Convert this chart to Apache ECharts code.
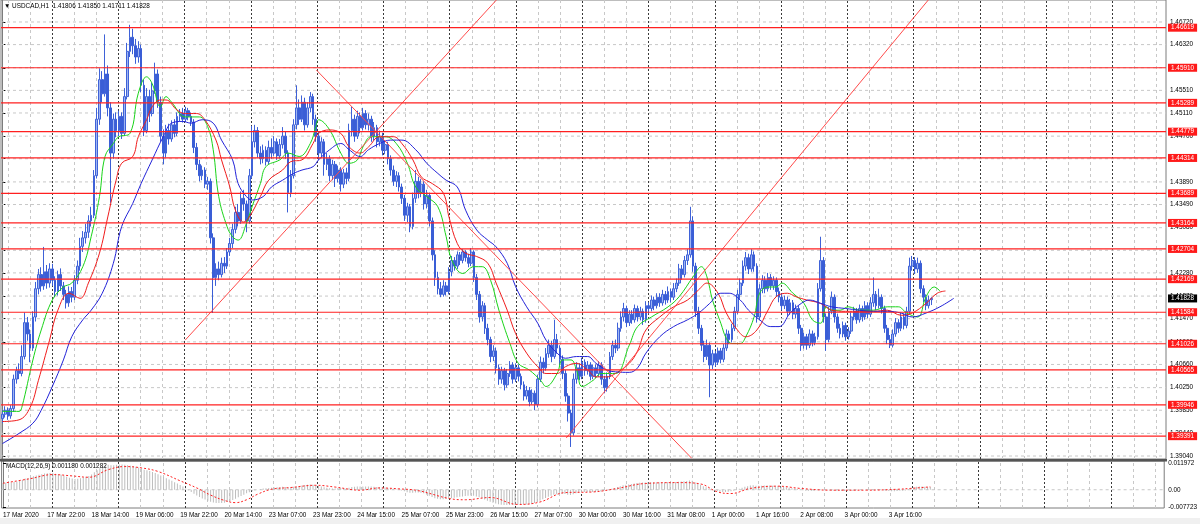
<!DOCTYPE html>
<html><head><meta charset="utf-8">
<script src="https://cdn.jsdelivr.net/npm/echarts/dist/echarts.min.js"></script>
<style>html,body{margin:0;padding:0;background:#fff}#c{width:1200px;height:524px}</style>
</head><body><div id="c"></div><script>
// ---------- DATA ----------
const tickLabels = ['17 Mar 2020','17 Mar 22:00','18 Mar 14:00','19 Mar 06:00','19 Mar 22:00','20 Mar 14:00','23 Mar 07:00','23 Mar 23:00','24 Mar 15:00','25 Mar 07:00','25 Mar 23:00','26 Mar 15:00','27 Mar 07:00','30 Mar 00:00','30 Mar 16:00','31 Mar 08:00','1 Apr 00:00','1 Apr 16:00','2 Apr 08:00','3 Apr 00:00','3 Apr 16:00'];
const levels = [1.46619,1.45910,1.45289,1.44779,1.44314,1.43689,1.43164,1.42704,1.42169,1.41584,1.41026,1.40565,1.39946,1.39391];
const currentPrice = 1.41828;
const priceTicks = [1.46720,1.46320,1.45910,1.45510,1.45110,1.44700,1.44300,1.43890,1.43490,1.43080,1.42680,1.42280,1.41870,1.41470,1.41060,1.40660,1.40250,1.39850,1.39440,1.39040];
const headerText = 'USDCAD,H1  1.41806 1.41850 1.41711 1.41828';
const macdText = 'MACD(12,26,9) 0.001180 0.001282';
const macdTicks = [0.011972, 0, -0.007723];
// [open, close, low, high]
const candles = [
[1.3970,1.3978,1.3962,1.3986],[1.3978,1.3985,1.3972,1.3992],[1.3985,1.3975,1.3968,1.3990],[1.3975,1.3988,1.3970,1.3994],[1.3988,1.4040,1.3982,1.4048],
[1.4040,1.4055,1.4032,1.4062],[1.4055,1.4050,1.4040,1.4068],[1.4050,1.4080,1.4045,1.4100],[1.4080,1.4140,1.4075,1.4158],[1.4140,1.4120,1.4108,1.4150],
[1.4120,1.4095,1.4070,1.4128],[1.4095,1.4150,1.4090,1.4160],[1.4150,1.4200,1.4142,1.4212],[1.4200,1.4225,1.4190,1.4235],[1.4225,1.4205,1.4195,1.4238],
[1.4205,1.4230,1.4198,1.4274],[1.4230,1.4210,1.4200,1.4242],[1.4210,1.4235,1.4202,1.4245],[1.4235,1.4215,1.4205,1.4244],[1.4215,1.4195,1.4185,1.4222],
[1.4195,1.4225,1.4188,1.4232],[1.4225,1.4205,1.4196,1.4236],[1.4205,1.4190,1.4180,1.4212],[1.4190,1.4175,1.4165,1.4198],[1.4175,1.4195,1.4168,1.4204],
[1.4195,1.4185,1.4176,1.4203],[1.4185,1.4215,1.4180,1.4224],[1.4215,1.4240,1.4208,1.4250],[1.4240,1.4275,1.4232,1.4290],[1.4275,1.4290,1.4265,1.4302],
[1.4290,1.4300,1.4280,1.4315],[1.4300,1.4320,1.4290,1.4330],[1.4320,1.4330,1.4310,1.4345],[1.4330,1.4400,1.4325,1.4410],[1.4400,1.4500,1.4395,1.4520],
[1.4500,1.4570,1.4490,1.4590],[1.4570,1.4545,1.4530,1.4585],[1.4545,1.4580,1.4540,1.4650],[1.4580,1.4520,1.4505,1.4595],[1.4520,1.4440,1.4352,1.4530],
[1.4440,1.4500,1.4430,1.4510],[1.4500,1.4480,1.4468,1.4512],[1.4480,1.4505,1.4470,1.4515],[1.4505,1.4475,1.4465,1.4512],[1.4475,1.4540,1.4470,1.4555],
[1.4540,1.4620,1.4535,1.4635],[1.4620,1.4645,1.4610,1.4667],[1.4645,1.4630,1.4615,1.4660],[1.4630,1.4610,1.4598,1.4642],[1.4610,1.4625,1.4600,1.4638],
[1.4625,1.4560,1.4548,1.4632],[1.4560,1.4480,1.4470,1.4570],[1.4480,1.4540,1.4475,1.4555],[1.4540,1.4510,1.4495,1.4552],[1.4510,1.4550,1.4505,1.4565],
[1.4550,1.4580,1.4545,1.4600],[1.4580,1.4530,1.4520,1.4588],[1.4530,1.4470,1.4460,1.4540],[1.4470,1.4440,1.4420,1.4482],[1.4440,1.4480,1.4432,1.4490],
[1.4480,1.4465,1.4455,1.4492],[1.4465,1.4490,1.4460,1.4498],[1.4490,1.4475,1.4468,1.4500],[1.4475,1.4505,1.4470,1.4512],[1.4505,1.4510,1.4496,1.4518],
[1.4510,1.4500,1.4494,1.4520],[1.4500,1.4515,1.4495,1.4522],[1.4515,1.4505,1.4498,1.4520],[1.4505,1.4495,1.4488,1.4512],[1.4495,1.4450,1.4440,1.4500],
[1.4450,1.4420,1.4410,1.4458],[1.4420,1.4400,1.4390,1.4428],[1.4400,1.4410,1.4392,1.4418],[1.4410,1.4385,1.4378,1.4415],[1.4385,1.4390,1.4375,1.4398],
[1.4390,1.4290,1.4280,1.4395],[1.4290,1.4220,1.4157,1.4298],[1.4220,1.4235,1.4205,1.4245],[1.4235,1.4225,1.4215,1.4248],[1.4225,1.4245,1.4220,1.4255],
[1.4245,1.4240,1.4228,1.4256],[1.4240,1.4265,1.4235,1.4272],[1.4265,1.4280,1.4258,1.4290],[1.4280,1.4305,1.4272,1.4315],[1.4305,1.4335,1.4298,1.4345],
[1.4335,1.4320,1.4310,1.4350],[1.4320,1.4360,1.4315,1.4372],[1.4360,1.4350,1.4338,1.4375],[1.4350,1.4320,1.4300,1.4356],[1.4320,1.4400,1.4315,1.4412],
[1.4400,1.4460,1.4395,1.4488],[1.4460,1.4480,1.4450,1.4490],[1.4480,1.4440,1.4432,1.4486],[1.4440,1.4430,1.4420,1.4452],[1.4430,1.4445,1.4422,1.4455],
[1.4445,1.4425,1.4418,1.4452],[1.4425,1.4450,1.4420,1.4462],[1.4450,1.4440,1.4430,1.4466],[1.4440,1.4460,1.4435,1.4470],[1.4460,1.4435,1.4428,1.4466],
[1.4435,1.4455,1.4430,1.4465],[1.4455,1.4470,1.4448,1.4486],[1.4470,1.4440,1.4430,1.4478],[1.4440,1.4370,1.4335,1.4445],[1.4370,1.4400,1.4362,1.4410],
[1.4400,1.4490,1.4395,1.4500],[1.4490,1.4520,1.4482,1.4560],[1.4520,1.4500,1.4490,1.4535],[1.4500,1.4530,1.4495,1.4542],[1.4530,1.4490,1.4480,1.4538],
[1.4490,1.4520,1.4485,1.4530],[1.4520,1.4540,1.4512,1.4548],[1.4540,1.4500,1.4490,1.4545],[1.4500,1.4470,1.4460,1.4508],[1.4470,1.4440,1.4428,1.4478],
[1.4440,1.4460,1.4432,1.4468],[1.4460,1.4420,1.4400,1.4465],[1.4420,1.4430,1.4410,1.4440],[1.4430,1.4400,1.4390,1.4436],[1.4400,1.4420,1.4392,1.4428],
[1.4420,1.4395,1.4380,1.4426],[1.4395,1.4410,1.4388,1.4418],[1.4410,1.4385,1.4372,1.4415],[1.4385,1.4405,1.4378,1.4412],[1.4405,1.4395,1.4385,1.4414],
[1.4395,1.4480,1.4390,1.4492],[1.4480,1.4500,1.4470,1.4522],[1.4500,1.4470,1.4460,1.4508],[1.4470,1.4505,1.4465,1.4515],[1.4505,1.4485,1.4475,1.4512],
[1.4485,1.4510,1.4480,1.4520],[1.4510,1.4490,1.4482,1.4516],[1.4490,1.4500,1.4480,1.4510],[1.4500,1.4470,1.4460,1.4506],[1.4470,1.4485,1.4462,1.4495],
[1.4485,1.4460,1.4450,1.4490],[1.4460,1.4470,1.4452,1.4480],[1.4470,1.4445,1.4436,1.4476],[1.4445,1.4455,1.4438,1.4462],[1.4455,1.4430,1.4420,1.4460],
[1.4430,1.4410,1.4400,1.4436],[1.4410,1.4390,1.4382,1.4418],[1.4390,1.4400,1.4380,1.4408],[1.4400,1.4380,1.4372,1.4406],[1.4380,1.4360,1.4350,1.4386],
[1.4360,1.4330,1.4320,1.4366],[1.4330,1.4345,1.4318,1.4352],[1.4345,1.4310,1.4300,1.4350],[1.4310,1.4360,1.4305,1.4370],[1.4360,1.4390,1.4352,1.4410],
[1.4390,1.4370,1.4360,1.4398],[1.4370,1.4385,1.4362,1.4394],[1.4385,1.4350,1.4340,1.4390],[1.4350,1.4365,1.4342,1.4375],[1.4365,1.4320,1.4310,1.4370],
[1.4320,1.4260,1.4250,1.4326],[1.4260,1.4220,1.4205,1.4268],[1.4220,1.4200,1.4190,1.4230],[1.4200,1.4190,1.4185,1.4212],[1.4190,1.4205,1.4186,1.4215],
[1.4205,1.4195,1.4188,1.4212],[1.4195,1.4230,1.4190,1.4238],[1.4230,1.4250,1.4222,1.4258],[1.4250,1.4240,1.4232,1.4256],[1.4240,1.4260,1.4235,1.4266],
[1.4260,1.4250,1.4242,1.4265],[1.4250,1.4265,1.4245,1.4270],[1.4265,1.4255,1.4248,1.4268],[1.4255,1.4245,1.4238,1.4262],[1.4245,1.4265,1.4240,1.4272],
[1.4265,1.4220,1.4212,1.4268],[1.4220,1.4190,1.4180,1.4226],[1.4190,1.4150,1.4140,1.4196],[1.4150,1.4170,1.4142,1.4178],[1.4170,1.4130,1.4120,1.4175],
[1.4130,1.4110,1.4100,1.4138],[1.4110,1.4080,1.4070,1.4115],[1.4080,1.4090,1.4072,1.4100],[1.4090,1.4060,1.4050,1.4096],[1.4060,1.4040,1.4030,1.4066],
[1.4040,1.4055,1.4032,1.4062],[1.4055,1.4030,1.4020,1.4060],[1.4030,1.4050,1.4025,1.4058],[1.4050,1.4065,1.4044,1.4072],[1.4065,1.4040,1.4032,1.4070],
[1.4040,1.4060,1.4035,1.4068],[1.4060,1.4045,1.4036,1.4066],[1.4045,1.4030,1.4022,1.4050],[1.4030,1.4010,1.4002,1.4036],[1.4010,1.4020,1.4004,1.4028],
[1.4020,1.4000,1.3992,1.4026],[1.4000,1.4015,1.3995,1.4022],[1.4015,1.3995,1.3985,1.4020],[1.3995,1.4040,1.3990,1.4048],[1.4040,1.4070,1.4035,1.4080],
[1.4070,1.4060,1.4050,1.4078],[1.4060,1.4085,1.4055,1.4095],[1.4085,1.4100,1.4078,1.4110],[1.4100,1.4080,1.4070,1.4108],[1.4080,1.4110,1.4076,1.4145],
[1.4110,1.4095,1.4085,1.4120],[1.4095,1.4075,1.4065,1.4100],[1.4075,1.4050,1.4040,1.4082],[1.4050,1.4010,1.4000,1.4056],[1.4010,1.3980,1.3965,1.4015],
[1.3980,1.3945,1.3920,1.3986],[1.3945,1.4040,1.3940,1.4050],[1.4040,1.4060,1.4032,1.4070],[1.4060,1.4045,1.4038,1.4068],[1.4045,1.4070,1.4040,1.4078],
[1.4070,1.4055,1.4046,1.4075],[1.4055,1.4065,1.4048,1.4072],[1.4065,1.4045,1.4038,1.4070],[1.4045,1.4060,1.4040,1.4066],[1.4060,1.4050,1.4042,1.4066],
[1.4050,1.4065,1.4044,1.4072],[1.4065,1.4040,1.4030,1.4070],[1.4040,1.4025,1.4015,1.4046],[1.4025,1.4045,1.4018,1.4052],[1.4045,1.4080,1.4040,1.4088],
[1.4080,1.4100,1.4074,1.4108],[1.4100,1.4095,1.4086,1.4110],[1.4095,1.4130,1.4090,1.4140],[1.4130,1.4150,1.4124,1.4160],[1.4150,1.4165,1.4142,1.4175],
[1.4165,1.4140,1.4132,1.4170],[1.4140,1.4155,1.4134,1.4162],[1.4155,1.4145,1.4138,1.4162],[1.4145,1.4165,1.4140,1.4172],[1.4165,1.4150,1.4142,1.4170],
[1.4150,1.4160,1.4144,1.4168],[1.4160,1.4145,1.4136,1.4165],[1.4145,1.4170,1.4140,1.4178],[1.4170,1.4165,1.4156,1.4176],[1.4165,1.4180,1.4160,1.4188],
[1.4180,1.4170,1.4162,1.4186],[1.4170,1.4185,1.4165,1.4192],[1.4185,1.4175,1.4168,1.4192],[1.4175,1.4190,1.4170,1.4198],[1.4190,1.4180,1.4172,1.4196],
[1.4180,1.4195,1.4175,1.4204],[1.4195,1.4185,1.4176,1.4200],[1.4185,1.4200,1.4180,1.4210],[1.4200,1.4210,1.4194,1.4218],[1.4210,1.4235,1.4205,1.4244],
[1.4235,1.4225,1.4216,1.4242],[1.4225,1.4250,1.4220,1.4258],[1.4250,1.4260,1.4242,1.4270],[1.4260,1.4320,1.4255,1.4345],[1.4320,1.4240,1.4230,1.4328],
[1.4240,1.4160,1.4150,1.4246],[1.4160,1.4130,1.4120,1.4168],[1.4130,1.4100,1.4090,1.4136],[1.4100,1.4080,1.4070,1.4108],[1.4080,1.4100,1.4074,1.4110],
[1.4100,1.4065,1.4008,1.4105],[1.4065,1.4085,1.4058,1.4092],[1.4085,1.4070,1.4062,1.4090],[1.4070,1.4090,1.4065,1.4096],[1.4090,1.4075,1.4068,1.4095],
[1.4075,1.4095,1.4070,1.4102],[1.4095,1.4120,1.4090,1.4128],[1.4120,1.4110,1.4102,1.4126],[1.4110,1.4130,1.4105,1.4138],[1.4130,1.4160,1.4125,1.4168],
[1.4160,1.4190,1.4155,1.4198],[1.4190,1.4210,1.4182,1.4218],[1.4210,1.4240,1.4205,1.4250],[1.4240,1.4255,1.4232,1.4265],[1.4255,1.4235,1.4226,1.4262],
[1.4235,1.4260,1.4230,1.4270],[1.4260,1.4240,1.4230,1.4266],[1.4240,1.4150,1.4140,1.4245],[1.4150,1.4200,1.4145,1.4208],[1.4200,1.4215,1.4192,1.4224],
[1.4215,1.4200,1.4192,1.4222],[1.4200,1.4220,1.4195,1.4228],[1.4220,1.4205,1.4198,1.4226],[1.4205,1.4215,1.4198,1.4222],[1.4215,1.4195,1.4186,1.4220],
[1.4195,1.4185,1.4176,1.4202],[1.4185,1.4170,1.4162,1.4192],[1.4170,1.4180,1.4164,1.4188],[1.4180,1.4160,1.4152,1.4186],[1.4160,1.4175,1.4154,1.4182],
[1.4175,1.4155,1.4146,1.4180],[1.4155,1.4165,1.4148,1.4172],[1.4165,1.4130,1.4120,1.4170],[1.4130,1.4100,1.4090,1.4136],[1.4100,1.4115,1.4094,1.4122],
[1.4115,1.4100,1.4092,1.4120],[1.4100,1.4120,1.4095,1.4128],[1.4120,1.4105,1.4098,1.4126],[1.4105,1.4115,1.4100,1.4122],[1.4115,1.4200,1.4110,1.4210],
[1.4200,1.4250,1.4195,1.4292],[1.4250,1.4150,1.4140,1.4256],[1.4150,1.4110,1.4090,1.4156],[1.4110,1.4160,1.4105,1.4168],[1.4160,1.4185,1.4155,1.4195],
[1.4185,1.4150,1.4140,1.4190],[1.4150,1.4130,1.4122,1.4156],[1.4130,1.4120,1.4112,1.4138],[1.4120,1.4135,1.4114,1.4142],[1.4135,1.4115,1.4108,1.4140],
[1.4115,1.4125,1.4110,1.4132],[1.4125,1.4150,1.4120,1.4158],[1.4150,1.4160,1.4144,1.4168],[1.4160,1.4145,1.4138,1.4166],[1.4145,1.4165,1.4140,1.4172],
[1.4165,1.4150,1.4142,1.4170],[1.4150,1.4170,1.4145,1.4178],[1.4170,1.4155,1.4148,1.4176],[1.4155,1.4175,1.4150,1.4185],[1.4175,1.4190,1.4168,1.4220],
[1.4190,1.4170,1.4162,1.4196],[1.4170,1.4185,1.4165,1.4200],[1.4185,1.4165,1.4156,1.4190],[1.4165,1.4130,1.4122,1.4170],[1.4130,1.4110,1.4102,1.4136],
[1.4110,1.4100,1.4095,1.4118],[1.4100,1.4120,1.4096,1.4128],[1.4120,1.4140,1.4115,1.4148],[1.4140,1.4130,1.4122,1.4146],[1.4130,1.4150,1.4125,1.4158],
[1.4150,1.4135,1.4128,1.4156],[1.4135,1.4160,1.4130,1.4168],[1.4160,1.4240,1.4155,1.4255],[1.4240,1.4250,1.4232,1.4258],[1.4250,1.4235,1.4226,1.4256],
[1.4235,1.4245,1.4228,1.4255],[1.4245,1.4200,1.4192,1.4250],[1.4200,1.4185,1.4176,1.4206],[1.4185,1.4170,1.4162,1.4190],[1.4170,1.4180,1.4165,1.4188],
[1.41806,1.41828,1.41711,1.41850]
];
// Alligator lines: [bar index, price]
const lipsLine = [[0,1.3983],[6,1.3983],[7,1.3990],[11,1.4074],[14,1.4127],[18,1.4180],[22,1.4203],[25,1.4210],[29,1.4239],[32,1.4292],[35,1.4363],[37,1.4434],[40,1.4457],[42,1.4469],[46,1.4475],[49,1.4546],[52,1.4575],[54,1.4563],[57,1.4522],[59,1.4540],[61,1.4530],[66,1.4504],[71,1.4504],[74,1.4487],[76,1.4446],[78,1.4363],[81,1.4310],[83,1.4292],[85,1.4286],[88,1.4316],[90,1.4345],[93,1.4386],[95,1.4416],[100,1.4428],[103,1.4440],[107,1.4434],[111,1.4457],[113,1.4487],[114,1.4499],[118,1.4481],[122,1.4440],[125,1.4422],[128,1.4428],[130,1.4451],[133,1.4469],[138,1.4469],[142,1.4457],[146,1.4422],[149,1.4380],[153,1.4363],[157,1.4345],[160,1.4292],[162,1.4251],[166,1.4227],[170,1.4239],[173,1.4239],[176,1.4215],[179,1.4162],[183,1.4103],[186,1.4068],[190,1.4056],[194,1.4038],[196,1.4027],[200,1.4050],[202,1.4074],[205,1.4074],[207,1.4056],[209,1.4027],[213,1.4038],[216,1.4050],[221,1.4050],[226,1.4100],[229,1.4133],[234,1.4150],[240,1.4168],[244,1.4186],[249,1.4221],[252,1.4239],[254,1.4221],[256,1.4180],[259,1.4139],[261,1.4112],[263,1.4103],[266,1.4103],[268,1.4115],[271,1.4150],[273,1.4192],[276,1.4203],[279,1.4203],[281,1.4210],[285,1.4192],[289,1.4174],[292,1.4145],[295,1.4139],[297,1.4168],[299,1.4162],[302,1.4162],[305,1.4168],[309,1.4162],[314,1.4162],[319,1.4168],[323,1.4168],[326,1.4157],[330,1.4150],[333,1.4186],[336,1.4203],[338,1.4196]];
const teethLine = [[0,1.3965],[6,1.3968],[10,1.3990],[13,1.4038],[17,1.4109],[20,1.4162],[24,1.4192],[28,1.4183],[31,1.4210],[35,1.4263],[38,1.4327],[41,1.4392],[43,1.4422],[47,1.4434],[49,1.4469],[52,1.4499],[54,1.4522],[57,1.4534],[59,1.4534],[63,1.4516],[66,1.4510],[70,1.4510],[73,1.4499],[77,1.4463],[79,1.4428],[82,1.4380],[84,1.4339],[87,1.4318],[89,1.4327],[93,1.4363],[96,1.4392],[101,1.4410],[104,1.4425],[108,1.4428],[112,1.4457],[114,1.4475],[118,1.4481],[122,1.4475],[125,1.4451],[129,1.4440],[132,1.4451],[136,1.4469],[141,1.4469],[144,1.4457],[148,1.4428],[151,1.4398],[155,1.4386],[159,1.4369],[161,1.4327],[164,1.4280],[167,1.4263],[171,1.4257],[175,1.4245],[178,1.4210],[182,1.4162],[185,1.4121],[189,1.4086],[193,1.4062],[196,1.4050],[200,1.4050],[203,1.4062],[207,1.4068],[211,1.4056],[214,1.4044],[218,1.4044],[221,1.4050],[226,1.4068],[229,1.4090],[232,1.4127],[237,1.4150],[242,1.4168],[247,1.4180],[251,1.4198],[254,1.4210],[258,1.4192],[261,1.4157],[265,1.4127],[268,1.4115],[272,1.4127],[276,1.4162],[279,1.4186],[283,1.4192],[286,1.4186],[290,1.4180],[295,1.4174],[299,1.4162],[304,1.4160],[309,1.4160],[314,1.4160],[319,1.4162],[324,1.4153],[328,1.4157],[333,1.4174],[337,1.4192],[340,1.4196]];
const jawLine = [[0,1.3926],[6,1.3944],[11,1.3962],[14,1.3985],[18,1.4027],[22,1.4074],[25,1.4115],[29,1.4145],[32,1.4162],[36,1.4192],[40,1.4245],[43,1.4310],[47,1.4351],[50,1.4386],[54,1.4428],[58,1.4469],[61,1.4493],[65,1.4496],[68,1.4493],[72,1.4499],[76,1.4493],[79,1.4463],[83,1.4428],[85,1.4386],[88,1.4363],[90,1.4357],[94,1.4363],[97,1.4380],[101,1.4392],[105,1.4404],[108,1.4410],[112,1.4416],[114,1.4428],[118,1.4446],[122,1.4457],[125,1.4446],[129,1.4434],[132,1.4446],[136,1.4457],[140,1.4463],[144,1.4463],[149,1.4446],[153,1.4422],[157,1.4404],[160,1.4392],[164,1.4380],[167,1.4339],[171,1.4304],[175,1.4286],[178,1.4274],[182,1.4245],[185,1.4204],[189,1.4168],[193,1.4139],[196,1.4109],[200,1.4086],[203,1.4077],[207,1.4080],[211,1.4080],[214,1.4068],[218,1.4056],[221,1.4053],[226,1.4052],[229,1.4060],[232,1.4086],[237,1.4115],[242,1.4133],[247,1.4145],[251,1.4157],[255,1.4174],[259,1.4192],[262,1.4192],[266,1.4180],[269,1.4162],[273,1.4145],[277,1.4133],[280,1.4133],[284,1.4157],[288,1.4174],[291,1.4180],[295,1.4174],[299,1.4168],[304,1.4165],[309,1.4162],[314,1.4160],[319,1.4160],[324,1.4157],[328,1.4150],[333,1.4157],[338,1.4168],[343,1.4183]];
// Trend lines: [[bar index, price], [bar index, price]]
const trendLines = [
  [[65.9,1.4109],[178.1,1.47109]],
  [[113.2,1.4587],[248.5,1.3900]],
  [[203.3,1.3936],[333.8,1.47109]]
];
const macdMain = [
0.0030,0.0031,0.0031,0.0032,0.0035,0.0037,
0.0040,0.0044,0.0050,0.0053,0.0056,0.0060,0.0064,0.0067,0.0070,0.0073,
0.0074,0.0075,0.0074,0.0072,0.0070,0.0067,0.0063,0.0058,0.0054,0.0050,
0.0048,0.0049,0.0052,0.0055,0.0058,0.0062,
0.0068,0.0078,0.0088,0.0097,0.0104,0.0110,0.0112,0.0110,0.0110,0.0112,
0.0113,0.0113,0.0112,0.0110,0.0108,0.0106,0.0103,0.0100,0.0095,0.0090,
0.0088,0.0084,0.0080,0.0075,0.0070,0.0064,0.0058,0.0052,0.0046,0.0040,
0.0034,0.0028,0.0021,0.0014,0.0006,-0.0002,-0.0010,-0.0018,-0.0026,-0.0033,
-0.0039,-0.0044,-0.0049,-0.0054,-0.0057,-0.0059,-0.0060,-0.0060,-0.0058,-0.0055,
-0.0051,-0.0046,-0.0040,-0.0034,-0.0028,-0.0022,-0.0016,-0.0011,-0.0007,-0.0003,
0.0000,0.0003,0.0005,0.0007,0.0008,0.0009,0.0010,0.0011,0.0012,0.0013,
0.0012,0.0010,0.0011,0.0013,0.0015,0.0017,0.0019,0.0021,0.0022,0.0023,
0.0022,0.0020,0.0017,0.0014,0.0011,0.0009,0.0007,0.0006,0.0006,0.0008,
0.0008,0.0007,0.0006,0.0009,0.0012,0.0013,0.0014,0.0015,0.0015,0.0015,
0.0014,0.0014,0.0013,0.0012,0.0012,0.0011,0.0010,0.0008,0.0006,0.0004,
0.0002,0.0000,-0.0003,-0.0007,-0.0011,-0.0014,-0.0014,-0.0012,-0.0012,-0.0013,
-0.0016,-0.0021,-0.0027,-0.0033,-0.0038,-0.0041,-0.0043,-0.0043,-0.0042,-0.0040,
-0.0038,-0.0036,-0.0034,-0.0032,-0.0030,-0.0028,-0.0027,-0.0026,-0.0027,-0.0030,
-0.0034,-0.0039,-0.0044,-0.0049,-0.0054,-0.0058,-0.0062,-0.0065,-0.0067,-0.0068,
-0.0069,-0.0069,-0.0069,-0.0068,-0.0067,-0.0067,-0.0066,-0.0066,-0.0066,-0.0064,
-0.0060,-0.0055,-0.0049,-0.0043,-0.0037,-0.0032,-0.0027,-0.0023,-0.0020,-0.0018,
-0.0018,-0.0019,-0.0022,-0.0024,-0.0020,-0.0016,-0.0013,-0.0011,-0.0010,-0.0010,
-0.0010,-0.0010,-0.0010,-0.0009,-0.0008,-0.0006,-0.0003,0.0000,0.0004,0.0008,
0.0012,0.0016,0.0020,0.0022,0.0024,0.0026,0.0028,0.0030,0.0031,0.0032,
0.0033,0.0034,0.0034,0.0034,0.0034,0.0034,0.0034,0.0034,0.0035,0.0035,
0.0035,0.0035,0.0036,0.0037,0.0038,0.0039,0.0042,0.0040,0.0034,0.0028,
0.0022,0.0016,0.0011,0.0005,0.0000,-0.0004,-0.0007,-0.0009,-0.0010,-0.0010,
-0.0009,-0.0007,-0.0004,0.0000,0.0004,0.0009,0.0013,0.0016,0.0019,0.0020,
0.0018,0.0018,0.0018,0.0019,0.0019,0.0019,0.0018,0.0018,0.0017,0.0015,
0.0013,0.0011,0.0009,0.0007,0.0005,0.0003,0.0000,-0.0002,-0.0004,-0.0005,
-0.0006,-0.0006,-0.0002,0.0003,0.0001,-0.0002,-0.0002,-0.0002,-0.0003,-0.0004,
-0.0005,-0.0006,-0.0006,-0.0006,-0.0005,-0.0004,-0.0003,-0.0002,-0.0001,0.0000,
0.0001,0.0002,0.0003,0.0003,0.0003,0.0001,-0.0002,-0.0004,-0.0006,-0.0007,
-0.0007,-0.0006,-0.0005,-0.0004,-0.0003,0.0003,0.0008,0.0011,0.0013,0.0014,
0.0014,0.0013,0.0012,0.0012
];
const macdSignal = [[0,0.0029],[10,0.0050],[18,0.0068],[25,0.0062],[31,0.0056],[38,0.0090],[44,0.0104],[50,0.0098],[56,0.0082],[64,0.0040],[70,0.0008],[75,-0.0024],[80,-0.0048],[84,-0.0058],[88,-0.0045],[92,-0.0020],[97,0.0002],[104,0.0010],[113,0.0020],[120,0.0012],[129,-0.0002],[136,0.0008],[143,0.0004],[150,-0.0004],[161,-0.0039],[167,-0.0045],[176,-0.0035],[186,-0.0066],[194,-0.0055],[203,-0.0013],[213,-0.0010],[222,0.0006],[232,0.0028],[245,0.0032],[252,0.0026],[258,-0.0009],[263,-0.0017],[270,0.0006],[280,0.0016],[288,0.0006],[299,-0.0002],[312,-0.0002],[323,0.0002],[328,0.0006],[335,0.0013]];

// ---------- LAYOUT / STYLE ----------
const SLOTS = 420;
const X0 = -0.5, X1 = SLOTS - 0.5;
const FONT = "'Liberation Sans', Arial, sans-serif";
const FS = 6.4;
const cats = Array.from({length: SLOTS}, (_, i) => String(i));
// vertical screen grid (every third line darker)
const vGrid = [];
for (let k = -2; ; k++) {
  const v = 17.9 + 7.965 * k;
  if (v > 419) break;
  vGrid.push({xAxis: v, lineStyle: (k % 3 === 0) ? {color: '#3a3a3a', type: [2, 2], width: 1} : {color: '#c8c8c8', type: [3, 3], width: 1}});
}
const PMIN = 1.38987, PMAX = 1.47109;

const chart = echarts.init(document.getElementById('c'), null, {renderer: 'canvas'});
const tag = (txt, bg) => ({show: true, distance: 2, formatter: txt, color: '#fff', backgroundColor: bg, padding: [1, 3, 1, 3], fontSize: FS, fontFamily: FONT});
// horizontal price levels: one flat line per level across the whole pane, tagged at its right end
const levelSeries = levels.map((v, k) => ({
  name: 'level' + k, type: 'line', xAxisIndex: 1, yAxisIndex: 0, data: [[X0, v], [X1, v]],
  symbol: 'none', silent: true, z: 6, lineStyle: {color: '#ff2020', width: 1.2},
  endLabel: tag(v.toFixed(5), '#ff1a1a')
}));
levelSeries.push({
  name: 'price', type: 'line', xAxisIndex: 1, yAxisIndex: 0, data: [[X0, currentPrice], [X1, currentPrice]],
  symbol: 'none', silent: true, z: 7, lineStyle: {opacity: 0},
  endLabel: tag(currentPrice.toFixed(5), '#000')
});
const priceGridSeries = priceTicks.map((v, k) => ({
  name: 'hgrid' + k, type: 'line', xAxisIndex: 1, yAxisIndex: 0, data: [[X0, v], [X1, v]],
  symbol: 'none', silent: true, z: 1, lineStyle: {color: '#c8c8c8', type: [3, 3], width: 1}
}));

const option = {
  animation: false,
  backgroundColor: '#fff',
  textStyle: {fontFamily: FONT},
  grid: [
    {left: 1, right: 34, top: 0, height: 459, show: true, borderColor: '#7c7c7c', borderWidth: 1, backgroundColor: 'transparent'},
    {left: 1, right: 34, top: 461, height: 47, show: true, borderColor: '#7c7c7c', borderWidth: 1, backgroundColor: 'transparent'}
  ],
  xAxis: [
    {type: 'category', gridIndex: 0, data: cats, boundaryGap: true, axisLine: {show: false}, axisTick: {show: false}, axisLabel: {show: false}, splitLine: {show: false}},
    {type: 'value', gridIndex: 0, min: X0, max: X1, show: false},
    {type: 'category', gridIndex: 1, data: cats, boundaryGap: true, position: 'bottom',
      axisLine: {show: false},
      axisTick: {show: false},
      axisLabel: {show: true, interval: 0, margin: 4, align: 'left', fontSize: FS, color: '#000', fontFamily: FONT,
        formatter: (v, idx) => (idx % 16 === 0 && tickLabels[idx / 16]) ? tickLabels[idx / 16] : ''},
      splitLine: {show: false}},
    {type: 'value', gridIndex: 1, min: X0, max: X1, show: false}
  ],
  yAxis: [
    {type: 'value', gridIndex: 0, position: 'right', min: PMIN, max: PMAX,
      axisLine: {show: true, lineStyle: {color: '#7c7c7c'}},
      axisTick: {show: true, length: 3, lineStyle: {color: '#000'}, customValues: priceTicks},
      axisLabel: {show: true, margin: 4, fontSize: FS, color: '#000', fontFamily: FONT, customValues: priceTicks, formatter: v => v.toFixed(5)},
      splitLine: {show: false}},
    {type: 'value', gridIndex: 1, position: 'right', min: -0.0082, max: 0.0129,
      axisLine: {show: true, lineStyle: {color: '#7c7c7c'}},
      axisTick: {show: true, length: 3, lineStyle: {color: '#000'}, customValues: macdTicks},
      axisLabel: {show: true, margin: 4, fontSize: FS, color: '#000', fontFamily: FONT, customValues: macdTicks,
        formatter: v => v === 0 ? '0.00' : v.toFixed(6)},
      splitLine: {show: false}}
  ],
  graphic: [
    {type: 'rect', silent: true, shape: {x: 0, y: 459, width: 1167, height: 2.5}, style: {fill: '#555'}, z: 100},
    {type: 'rect', silent: true, shape: {x: 0, y: 518, width: 1200, height: 6}, style: {fill: '#f0f0f0'}, z: 100},
    {type: 'text', left: 4, top: 3, z: 100, style: {text: '\u25BC ' + headerText, fontSize: FS, fill: '#000', fontFamily: FONT}},
    {type: 'text', left: 6, top: 463, z: 100, style: {text: macdText, fontSize: FS, fill: '#000', fontFamily: FONT}}
  ],
  series: priceGridSeries.concat([
    {name: 'vgrid', type: 'line', xAxisIndex: 1, yAxisIndex: 0, data: jawLine, silent: true, z: 1, symbol: 'none',
      lineStyle: {opacity: 0},
      markLine: {silent: true, symbol: ['none', 'none'], label: {show: false}, animation: false, z: 1,
        lineStyle: {color: '#c8c8c8', type: [3, 3], width: 1}, data: vGrid}},
    {name: 'USDCAD', type: 'candlestick', xAxisIndex: 0, yAxisIndex: 0, data: candles, barWidth: 2.2, z: 3,
      itemStyle: {color: '#9fb5f2', color0: '#3a5ed6', borderColor: '#3f62d8', borderColor0: '#3a5ed6', borderWidth: 1}},
    {name: 'Lips', type: 'line', xAxisIndex: 1, yAxisIndex: 0, data: lipsLine, smooth: 0.4, symbol: 'none', z: 4, lineStyle: {color: '#19d419', width: 1}},
    {name: 'Teeth', type: 'line', xAxisIndex: 1, yAxisIndex: 0, data: teethLine, smooth: 0.4, symbol: 'none', z: 4, lineStyle: {color: '#f01c1c', width: 1}},
    {name: 'Jaw', type: 'line', xAxisIndex: 1, yAxisIndex: 0, data: jawLine, smooth: 0.4, symbol: 'none', z: 4, lineStyle: {color: '#2323d8', width: 1}}
  ]).concat(levelSeries).concat(trendLines.map((t, k) => ({
    name: 'trend' + k, type: 'line', xAxisIndex: 1, yAxisIndex: 0, data: t, symbol: 'none', z: 5, clip: true,
    lineStyle: {color: '#ff4a4a', width: 1}
  }))).concat([
    {name: 'zero', type: 'line', xAxisIndex: 3, yAxisIndex: 1, data: [[X0, 0], [X1, 0]], symbol: 'none', silent: true, z: 1,
      lineStyle: {color: '#c8c8c8', type: [3, 3], width: 1},
      markLine: {silent: true, symbol: ['none', 'none'], label: {show: false}, animation: false, z: 1,
        lineStyle: {color: '#c8c8c8', type: [3, 3], width: 1}, data: vGrid}},
    {name: 'MACD', type: 'bar', xAxisIndex: 2, yAxisIndex: 1, data: macdMain, barWidth: 1, z: 3, itemStyle: {color: '#bdbdbd'}},
    {name: 'Signal', type: 'line', xAxisIndex: 3, yAxisIndex: 1, data: macdSignal, smooth: 0.4, symbol: 'none', z: 4,
      lineStyle: {color: '#ff2020', width: 1, type: [2, 2]}}
  ])
};
chart.setOption(option);
</script></body></html>
